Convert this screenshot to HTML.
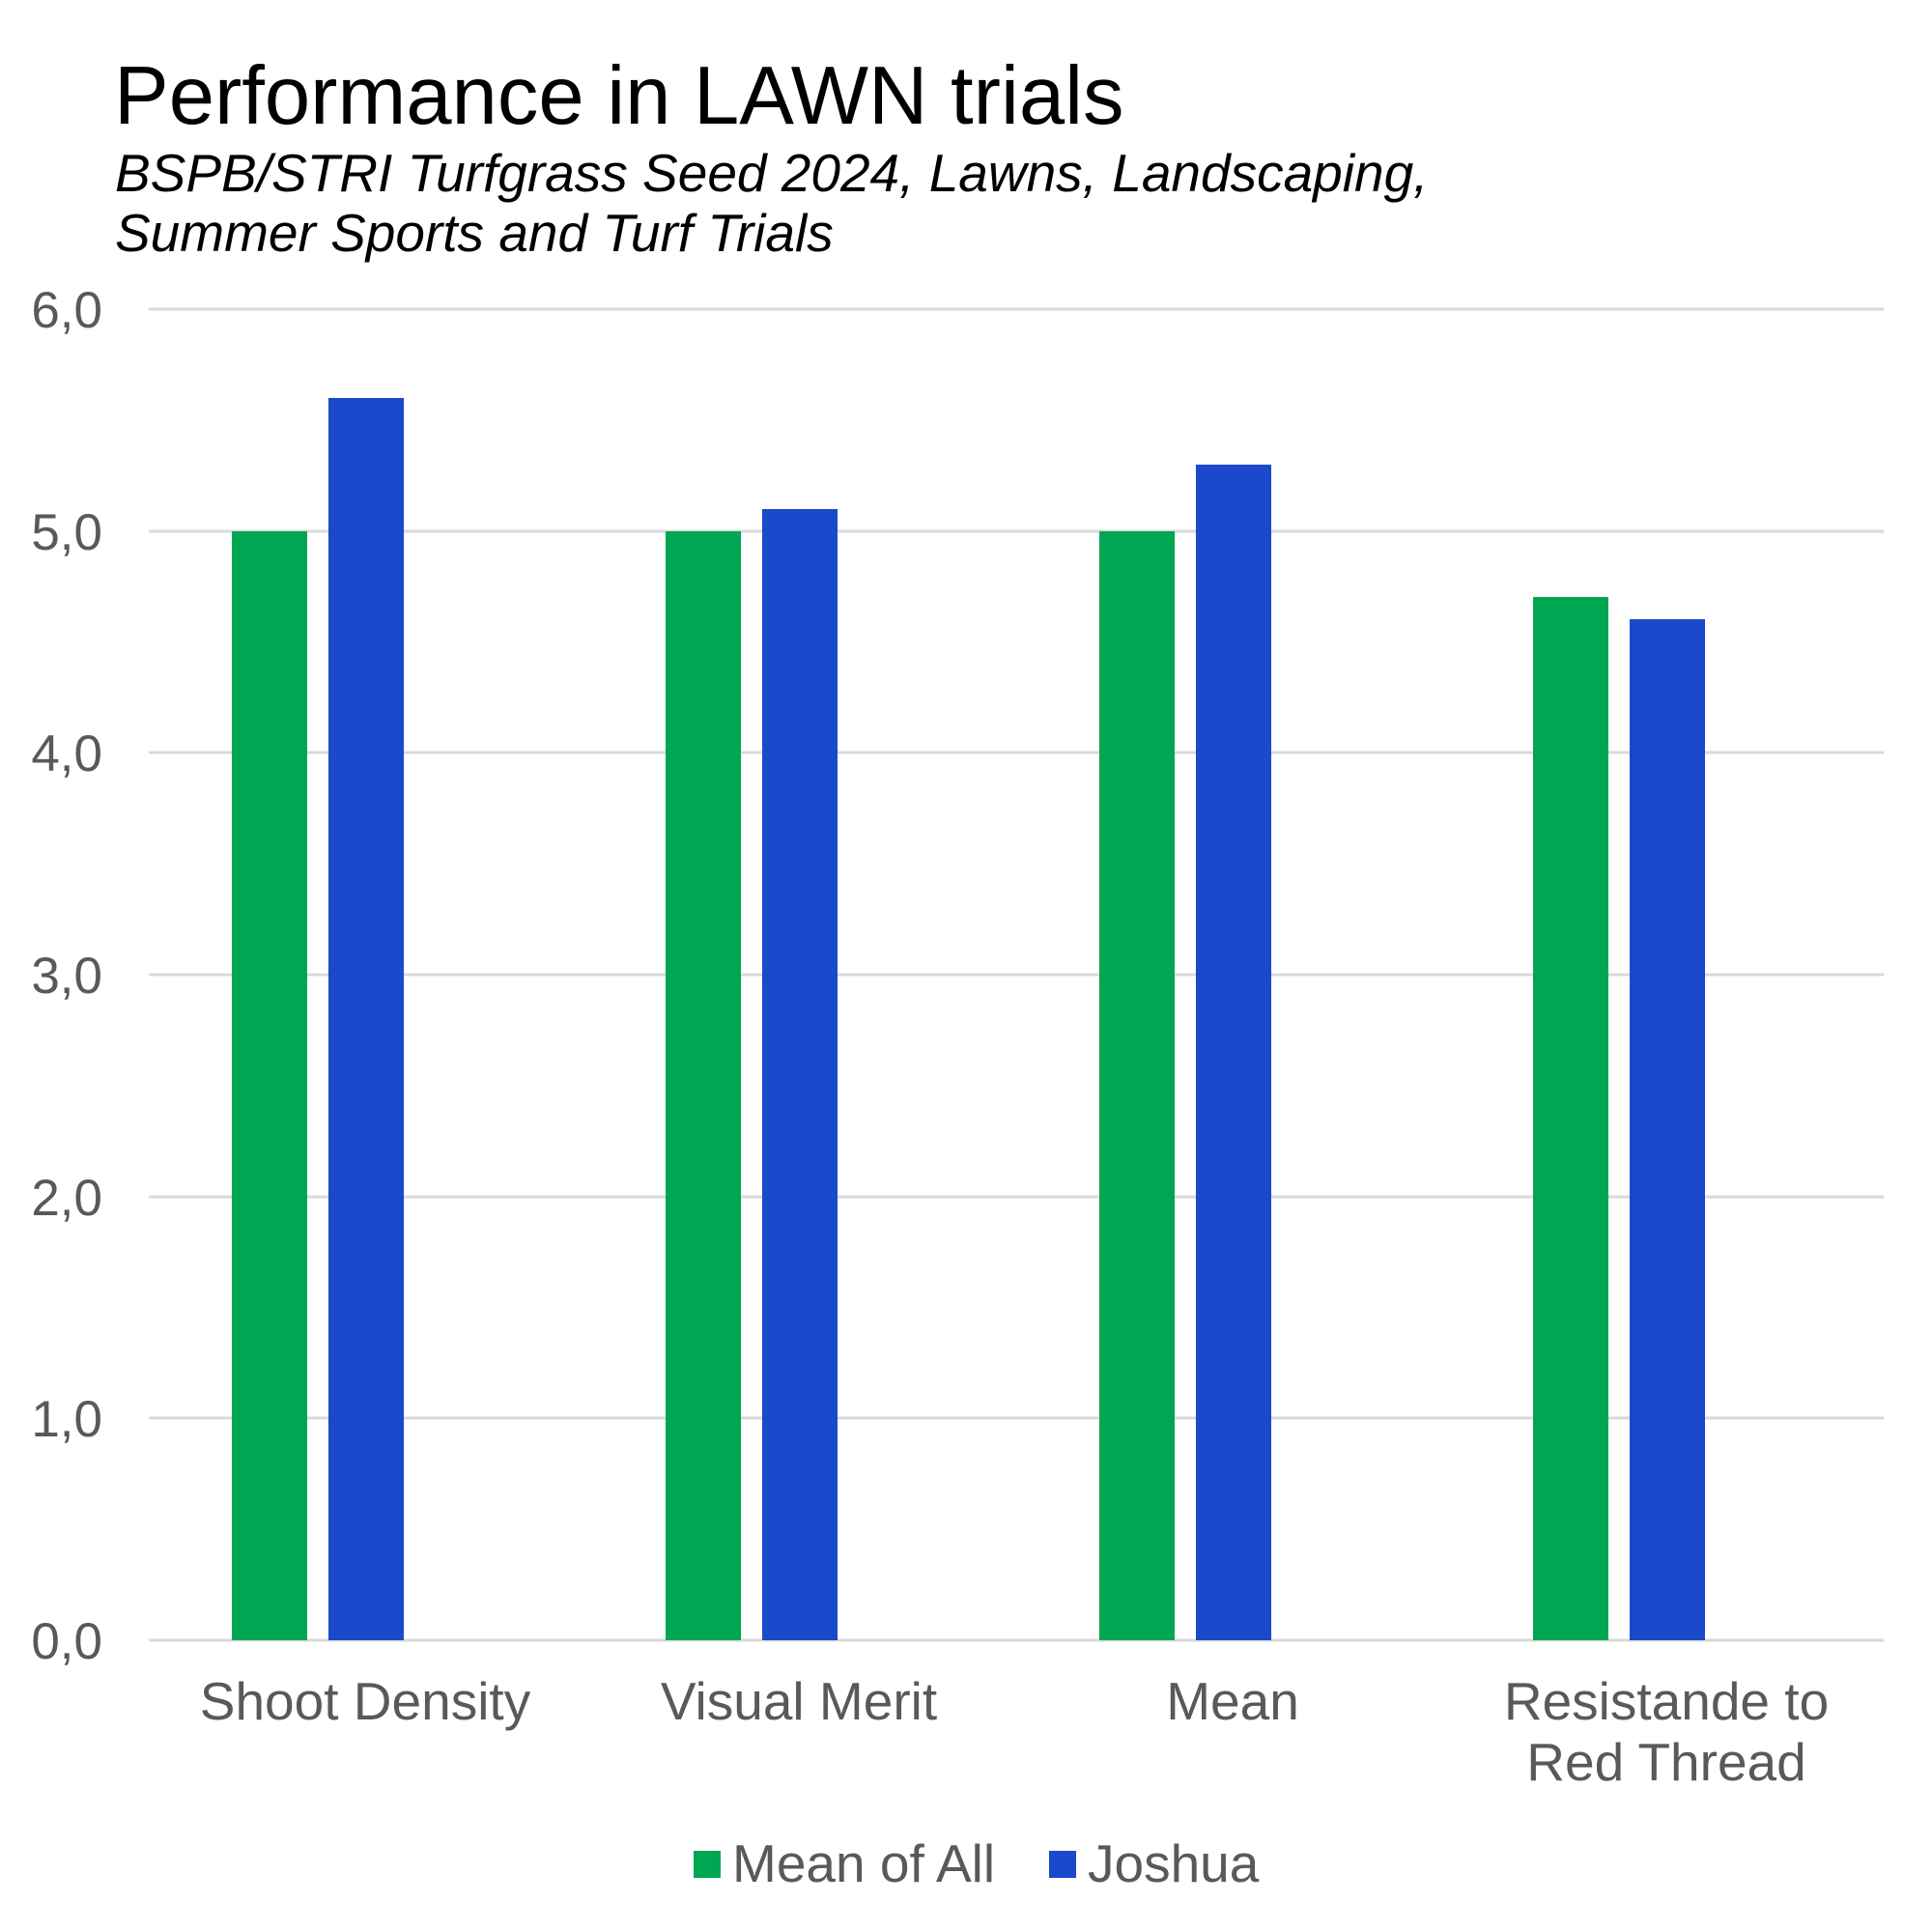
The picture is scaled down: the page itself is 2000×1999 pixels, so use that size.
<!DOCTYPE html>
<html><head><meta charset="utf-8"><style>
html,body{margin:0;padding:0;background:#fff;}
svg{display:block;}
</style></head><body>
<svg width="2000" height="1999" viewBox="0 0 2000 1999" xmlns="http://www.w3.org/2000/svg" font-family="Liberation Sans, Arial, sans-serif">
<rect width="2000" height="1999" fill="#fff"/>
<text x="118" y="128" font-size="85" fill="#000">Performance in LAWN trials</text>
<text x="119" y="198" font-size="55" font-style="italic" fill="#000">BSPB/STRI Turfgrass Seed 2024, Lawns, Landscaping,</text>
<text x="119" y="260" font-size="55" font-style="italic" fill="#000">Summer Sports and Turf Trials</text>
<g stroke="#d9d9d9" stroke-width="3">
<line x1="154" x2="1950" y1="320" y2="320"/>
<line x1="154" x2="1950" y1="550" y2="550"/>
<line x1="154" x2="1950" y1="779" y2="779"/>
<line x1="154" x2="1950" y1="1009" y2="1009"/>
<line x1="154" x2="1950" y1="1239" y2="1239"/>
<line x1="154" x2="1950" y1="1468" y2="1468"/>
<line x1="154" x2="1950" y1="1698" y2="1698"/>
</g>
<g font-size="53" fill="#595959" text-anchor="end">
<text x="106" y="339">6,0</text>
<text x="106" y="569">5,0</text>
<text x="106" y="798">4,0</text>
<text x="106" y="1028">3,0</text>
<text x="106" y="1258">2,0</text>
<text x="106" y="1487">1,0</text>
<text x="106" y="1717">0,0</text>
</g>
<g fill="#00A651">
<rect x="240" y="550" width="78" height="1148"/>
<rect x="689" y="550" width="78" height="1148"/>
<rect x="1138" y="550" width="78" height="1148"/>
<rect x="1587" y="618" width="78" height="1080"/>
</g>
<g fill="#1A49CB">
<rect x="340" y="412" width="78" height="1286"/>
<rect x="789" y="527" width="78" height="1171"/>
<rect x="1238" y="481" width="78" height="1217"/>
<rect x="1687" y="641" width="78" height="1057"/>
</g>
<g font-size="55" fill="#595959" text-anchor="middle">
<text x="378" y="1780">Shoot Density</text>
<text x="827" y="1780">Visual Merit</text>
<text x="1276" y="1780">Mean</text>
<text x="1725" y="1780">Resistande to</text>
<text x="1725" y="1843">Red Thread</text>
</g>
<rect x="718" y="1916" width="28" height="28" fill="#00A651"/>
<text x="758" y="1948" font-size="55" fill="#595959">Mean of All</text>
<rect x="1086" y="1916" width="28" height="28" fill="#1A49CB"/>
<text x="1126" y="1948" font-size="55" fill="#595959">Joshua</text>
</svg>
</body></html>
